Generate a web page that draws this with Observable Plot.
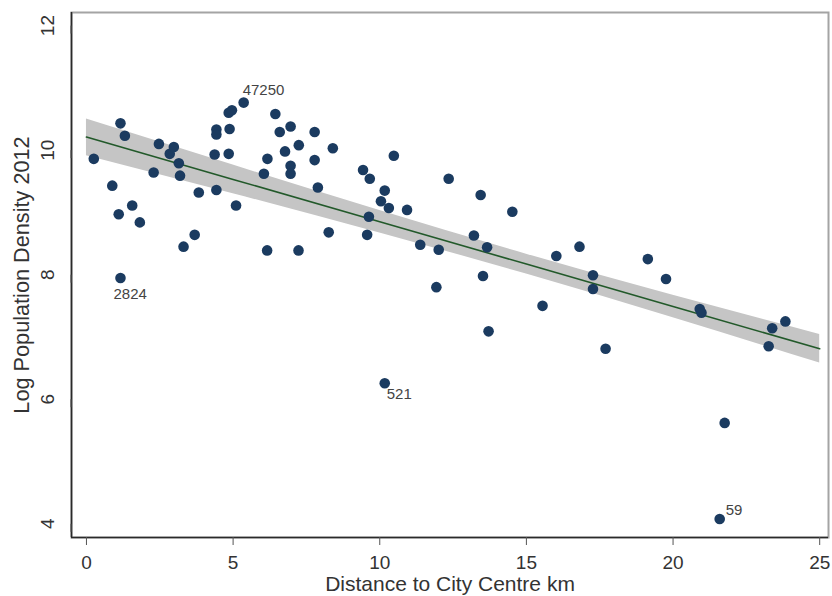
<!DOCTYPE html>
<html>
<head>
<meta charset="utf-8">
<script src="https://cdn.jsdelivr.net/npm/d3@7"></script>
<script src="https://cdn.jsdelivr.net/npm/@observablehq/plot@0.6"></script>
<style>
  body { margin: 0; background: #fff; }
</style>
</head>
<body>
<div id="chart"></div>
<script>
// Districts: distance to the city centre (km) and log population density, 2012
const distanceKm = [
  0.25, 0.88, 1.10, 1.16, 1.31, 1.56, 1.82, 2.29, 2.47, 2.84,
  2.98, 3.15, 3.19, 3.31, 3.69, 3.83, 4.43, 4.37, 4.85, 4.43,
  4.43, 4.88, 4.85, 4.96, 5.10, 6.05, 6.17, 6.16, 6.44, 6.59,
  6.77, 6.96, 7.24, 6.96, 6.96, 7.23, 7.78, 7.78, 7.89, 8.40,
  8.26, 9.43, 9.66, 10.48, 9.57, 9.63, 10.04, 10.31, 10.17, 10.93,
  11.38, 12.01, 12.35, 11.93, 13.21, 13.44, 13.66, 14.52, 13.52, 13.71,
  15.55, 16.02, 16.81, 17.27, 17.27, 17.70, 19.14, 19.76, 20.91, 20.97,
  21.76, 23.26, 23.38, 23.83
];
const logDensity = [
  9.86, 9.43, 8.97, 10.43, 10.23, 9.11, 8.84, 9.64, 10.10, 9.94,
  10.05, 9.79, 9.59, 8.45, 8.64, 9.32, 9.36, 9.93, 9.94, 10.33,
  10.25, 10.34, 10.60, 10.64, 9.11, 9.62, 9.86, 8.39, 10.58, 10.29,
  9.98, 10.38, 10.08, 9.75, 9.62, 8.39, 10.29, 9.84, 9.40, 10.03,
  8.68, 9.68, 9.54, 9.91, 8.64, 8.93, 9.18, 9.07, 9.35, 9.04,
  8.48, 8.40, 9.54, 7.80, 8.63, 9.28, 8.44, 9.01, 7.98, 7.09,
  7.50, 8.30, 8.45, 7.99, 7.77, 6.81, 8.25, 7.93, 7.45, 7.39,
  5.62, 6.85, 7.14, 7.25
];

// Districts annotated with their population density
const labeledDistanceKm = [5.36, 1.16, 10.17, 21.59];
const labeledDensity = [47250, 2824, 521, 59];

// Linear fit with its 95% confidence band
const fitDistanceKm = [0, 5, 10, 15, 20, 25];
const fitValue = [10.21, 9.53, 8.85, 8.17, 7.49, 6.81];
const fitLower = [9.91, 9.30, 8.67, 8.01, 7.31, 6.58];
const fitUpper = [10.50, 9.76, 9.03, 8.33, 7.67, 7.04];

const xTicks = [0, 5, 10, 15, 20, 25];
const yTicks = [4, 6, 8, 10, 12];
const xDomain = [-0.51, 25.3];
const yDomain = [3.78, 12.21];

const points = distanceKm.map((d, i) => ({x: d, y: logDensity[i]}));
const labeled = labeledDistanceKm.map((d, i) => ({
  x: d, y: Math.log(labeledDensity[i]), label: String(labeledDensity[i])
}));
const all = points.concat(labeled);
const fit = fitDistanceKm.map((x, i) => ({x, y: fitValue[i], lo: fitLower[i], hi: fitUpper[i]}));

const font = "'Liberation Sans', Arial, Helvetica, sans-serif";
const ink = "#333";
const dotColor = "#1b3b60";

const labelOpts = {x: "x", y: "y", text: "label", textAnchor: "start", fill: "#444", fontSize: 15};

const chart = Plot.plot({
  width: 832,
  height: 596,
  marginLeft: 71,
  marginRight: 4,
  marginTop: 12,
  marginBottom: 59,
  style: {fontFamily: font, fontSize: "19px", color: ink, background: "#fff"},
  x: {domain: xDomain},
  y: {domain: yDomain},
  marks: [
    Plot.frame({stroke: "#a4a4a4", strokeWidth: 2}),
    Plot.areaY(fit, {x: "x", y1: "lo", y2: "hi", fill: "#c5c5c5", curve: "natural"}),
    Plot.line(fit, {x: "x", y: "y", stroke: "#22592a", strokeWidth: 1.6}),
    Plot.dot(all, {x: "x", y: "y", r: 5.3, fill: dotColor, stroke: "none"}),
    Plot.text(labeled.filter(d => d.label === "47250"), {...labelOpts, dx: -1, dy: -12}),
    Plot.text(labeled.filter(d => d.label === "2824"), {...labelOpts, dx: -7, dy: 16}),
    Plot.text(labeled.filter(d => d.label === "521"), {...labelOpts, dx: 2, dy: 11}),
    Plot.text(labeled.filter(d => d.label === "59"), {...labelOpts, dx: 6, dy: -9}),
    Plot.ruleX([xDomain[0]], {stroke: "#2a2a2a", strokeWidth: 1.6}),
    Plot.ruleY([yDomain[0]], {stroke: "#2a2a2a", strokeWidth: 1.6}),
    Plot.axisX({ticks: xTicks, tickSize: 8, tickPadding: 10, label: null, fontSize: 19, stroke: "#555"}),
    Plot.axisY({ticks: yTicks, tickSize: 8, tickPadding: 16, rotate: -90, textAnchor: "middle", label: null, fontSize: 19, stroke: "#555"}),
    Plot.text(["Distance to City Centre km"], {frameAnchor: "bottom", lineAnchor: "middle", textAnchor: "middle", dy: 47, fontSize: 21, fill: ink}),
    Plot.text(["Log Population Density 2012"], {frameAnchor: "left", lineAnchor: "middle", textAnchor: "middle", rotate: -90, dx: -49, fontSize: 21.7, fill: ink})
  ]
});

document.getElementById("chart").appendChild(chart);
</script>
</body>
</html>
